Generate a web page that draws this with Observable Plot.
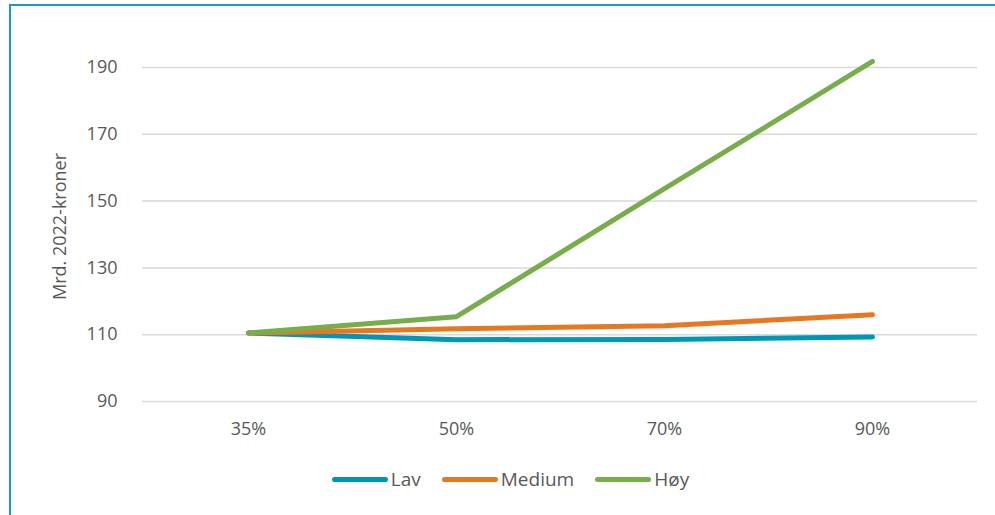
<!DOCTYPE html>
<html>
<head>
<meta charset="utf-8">
<script src="https://cdn.jsdelivr.net/npm/d3@7"></script>
<script src="https://cdn.jsdelivr.net/npm/@observablehq/plot@0.6"></script>
<style>
  html, body { margin: 0; padding: 0; background: #fff; }
  #wrap { position: relative; width: 995px; height: 515px; overflow: hidden; font-family: "Open Sans", sans-serif; }
  #frame { position: absolute; left: 9px; top: 4px; width: 1100px; height: 700px; border-left: 2px solid #1b9bb5; border-top: 2px solid #1b9bb5; box-sizing: border-box; pointer-events: none; }
  #chart { position: absolute; left: 0; top: 0; }
  #legend { position: absolute; left: 0; top: 466px; width: 995px; display: flex; justify-content: center; gap: 21px; padding-left: 26px; box-sizing: border-box; color: #595959; font-size: 19px; }
  .item { display: flex; align-items: center; gap: 3px; }
  .sw { width: 56px; height: 5px; border-radius: 3px; }
</style>
</head>
<body>
<div id="wrap">
  <div id="chart"></div>
  <div id="frame"></div>
  <div id="legend"></div>
</div>
<script>
const categories = ["35%", "50%", "70%", "90%"];
const seriesNames = ["Lav", "Medium", "Høy"];
const lav = [110.5, 108.5, 108.6, 109.3];
const medium = [110.5, 111.8, 112.7, 116.0];
const hoy = [110.5, 115.4, 153.7, 191.8];
const yTicks = [90, 110, 130, 150, 170, 190];
const yLabel = "Mrd. 2022-kroner";
const colors = ["#0096b6", "#e87722", "#78ad4b"];

const valuesBySeries = [lav, medium, hoy];
const data = [];
seriesNames.forEach((s, si) => {
  categories.forEach((c, ci) => data.push({series: s, cat: c, value: valuesBySeries[si][ci]}));
});

const chart = Plot.plot({
  width: 995,
  height: 515,
  marginLeft: 142,
  marginRight: 18,
  marginTop: 67,
  marginBottom: 114,
  style: { fontFamily: "Open Sans, sans-serif", fontSize: "18px", color: "#595959", background: "transparent" },
  x: { type: "point", domain: categories, padding: 0.5, label: null },
  y: { domain: [90, 190], ticks: yTicks, label: null },
  color: { domain: seriesNames, range: colors },
  marks: [
    Plot.ruleY(yTicks, { stroke: "#d9d9d9", strokeWidth: 1.5 }),
    Plot.axisY({ ticks: yTicks, tickSize: 0, tickPadding: 25, label: null, fontSize: 18 }),
    Plot.axisX({ tickSize: 0, tickPadding: 21, label: null, fontSize: 18 }),
    Plot.text([yLabel], { frameAnchor: "left", textAnchor: "middle", dx: -82, dy: -8, rotate: -90, fontSize: 18, fill: "#595959" }),
    Plot.line(data, { x: "cat", y: "value", z: "series", stroke: "series", strokeWidth: 5, strokeLinecap: "round", strokeLinejoin: "round" })
  ]
});
document.getElementById("chart").appendChild(chart);

const legend = document.getElementById("legend");
seriesNames.forEach((s, i) => {
  const item = document.createElement("div");
  item.className = "item";
  const sw = document.createElement("div");
  sw.className = "sw";
  sw.style.background = colors[i];
  const t = document.createElement("span");
  t.textContent = s;
  item.appendChild(sw);
  item.appendChild(t);
  legend.appendChild(item);
});
</script>
</body>
</html>
